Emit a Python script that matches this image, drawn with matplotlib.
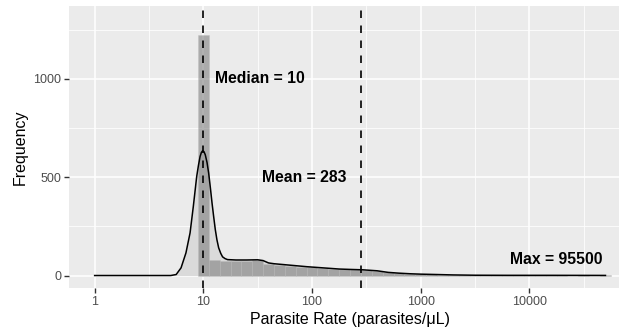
import numpy as np
import matplotlib
matplotlib.use("Agg")
import matplotlib.pyplot as plt

plt.rcParams['font.family'] = ['Liberation Sans', 'DejaVu Sans']

# Histogram bins (log10 of parasites/uL, bin centres) and counts
bin_log = [1.0, 1.1, 1.2, 1.3, 1.4, 1.5, 1.6, 1.7, 1.8, 1.9, 2.0, 2.1, 2.2,
           2.3, 2.4, 2.5, 2.6, 2.7, 2.8, 2.9, 3.0, 3.1, 3.2, 3.3, 3.4, 3.5,
           3.6, 3.7, 3.8, 3.9, 4.0, 4.1, 4.2, 4.3, 4.4, 4.5, 4.6, 4.7]
counts = [1224, 78, 76, 76, 76, 80, 58, 51, 49, 44, 41, 37, 34,
          32, 31, 29, 25, 16, 12, 9, 7, 6, 4, 3, 2, 2,
          1, 1, 1, 1, 1, 1, 1, 1, 0, 1, 0, 1]

# Density curve (scaled to counts)
dens_log = [0.0, 0.5, 0.70, 0.75, 0.795, 0.84, 0.878, 0.908, 0.939, 0.955,
            0.970, 0.982, 0.994, 1.006, 1.018, 1.034, 1.049, 1.065, 1.080,
            1.095, 1.110, 1.125, 1.141, 1.160, 1.177, 1.200, 1.223, 1.30,
            1.40, 1.50, 1.55, 1.60, 1.65, 1.75, 1.85, 1.95, 2.05, 2.15,
            2.25, 2.35, 2.47, 2.60, 2.70, 2.80, 2.90, 3.00, 3.15, 3.30,
            3.50, 3.80, 4.20, 4.70]
dens_y = [0, 0, 0, 5, 39, 115, 217, 352, 504, 560,
          605, 626, 635, 630, 614, 575, 521, 445, 369,
          300, 234, 182, 141, 113, 95, 86, 81, 79,
          79, 80, 76, 64, 60, 55, 50, 45, 41, 37,
          33, 31, 29, 24, 16, 12, 9, 7, 5, 3,
          1.5, 1, 1, 0.5]

median_val = 10
mean_val = 283
labels = ["Median = 10", "Mean = 283", "Max = 95500"]
label_x = [33, 84, 17500]
label_y = [1000, 500, 80]

W, H = 619, 331
fig = plt.figure(figsize=(W / 100, H / 100), dpi=100)
left, right, top, bottom = 69, 631, 6, 288.3
ax = fig.add_axes([left / W, (H - bottom) / H, (right - left) / W, (bottom - top) / H])
ax.set_facecolor('#ebebeb')

ax.set_xscale('log')
ax.set_xlim(10 ** -0.236, 10 ** 4.935)
ax.set_ylim(-65, 1371)

# grid
ax.set_xticks([1, 10, 100, 1000, 10000])
ax.set_xticks([10 ** 0.5, 10 ** 1.5, 10 ** 2.5, 10 ** 3.5, 10 ** 4.5], minor=True)
ax.set_xticklabels(['1', '10', '100', '1000', '10000'])
ax.set_yticks([0, 500, 1000])
ax.set_yticks([250, 750, 1250], minor=True)
ax.grid(which='major', color='white', linewidth=1.1)
ax.grid(which='minor', color='white', linewidth=0.55)
ax.set_axisbelow(True)
for s in ax.spines.values():
    s.set_visible(False)
ax.tick_params(which='major', length=3.5, width=1.0, color='#333333',
               labelcolor='#4d4d4d', labelsize=9, pad=2)
ax.tick_params(which='minor', length=0)

# density fill
dx = [10 ** v for v in dens_log]
ax.fill_between(dx, 0, dens_y, color='#dadada', linewidth=0, zorder=2)

# histogram bars
lefts = [10 ** (c - 0.05) for c in bin_log]
widths = [10 ** (c + 0.05) - 10 ** (c - 0.05) for c in bin_log]
ax.bar(lefts, counts, width=widths, align='edge', color='#777777', alpha=0.55,
       edgecolor='#bcbcbc', linewidth=0.5, zorder=3)

# density line
ax.plot(dx, dens_y, color='black', linewidth=1.1, zorder=4)

# reference lines
for v in [median_val, mean_val]:
    ax.axvline(v, color='black', linestyle=(0, (4.5, 4.5)), linewidth=1.2, zorder=5)

for t, x, y in zip(labels, label_x, label_y):
    ax.text(x, y, t, ha='center', va='center', fontsize=11.3,
            fontweight='bold', color='black', zorder=6)

ax.set_xlabel('Parasite Rate (parasites/μL)', fontsize=11.5, labelpad=3)
ax.set_ylabel('Frequency', fontsize=11.5, labelpad=4)

fig.savefig('out.png', dpi=100)
